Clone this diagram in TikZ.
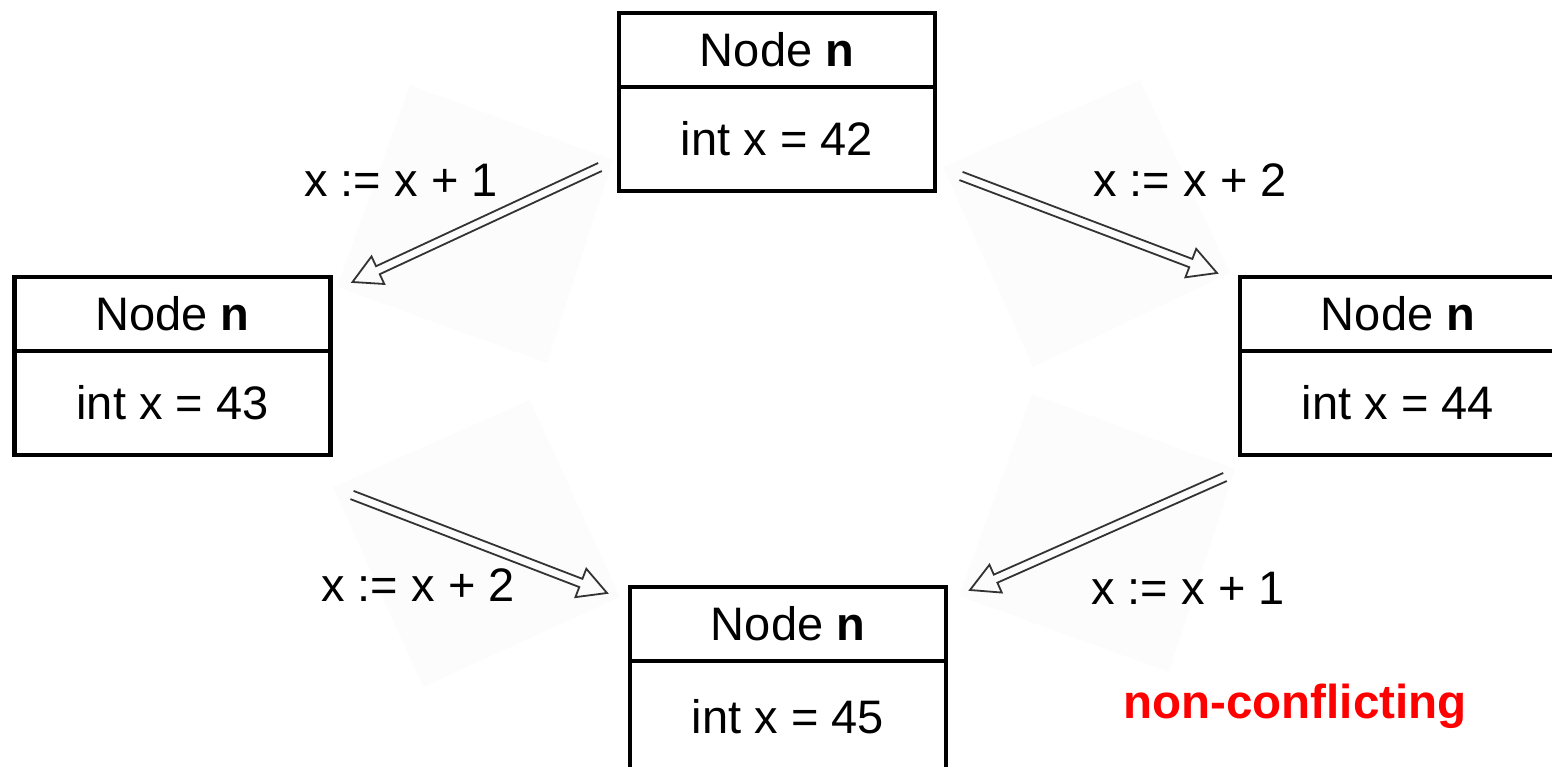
\documentclass[tikz,border=0pt]{standalone}
\usepackage{fontspec}
\setmainfont{Liberation Sans}
\usetikzlibrary{calc, positioning}

\begin{document}
\begin{tikzpicture}[
    x=0.5pt, y=-0.5pt,
    font=\fontsize{23.5pt}{28pt}\selectfont,
    head/.style={rectangle, draw=black, line width=2.3pt, minimum width=158pt, minimum height=37pt, inner sep=0pt, outer sep=0pt, anchor=north},
    value/.style={rectangle, draw=black, line width=2.3pt, minimum width=158pt, minimum height=52pt, inner sep=0pt, outer sep=0pt},
    haze/.style={fill=black!1.2, draw=none},
    flow/.style={draw=black!80, line width=0.9pt, line join=miter, to path={
        let \p1=(\tikztostart), \p2=(\tikztotarget),
            \n1={atan2(\y2-\y1,\x2-\x1)}, \n2={veclen(\x2-\x1,\y2-\y1)-14}
        in ($(\p1)+(\n1+90:2.2pt)$) -- ($(\p1)+(\n1:\n2)+(\n1+90:2.2pt)$)
           -- ($(\p1)+(\n1:\n2)+(\n1+90:7.6pt)$) -- (\p2)
           -- ($(\p1)+(\n1:\n2)+(\n1-90:7.6pt)$) -- ($(\p1)+(\n1:\n2)+(\n1-90:2.2pt)$)
           -- ($(\p1)+(\n1-90:2.2pt)$)}},
    update/.style={anchor=base}
]
\useasboundingbox (0,0) rectangle (1552,766);

% pale patches behind the arrows
\fill[haze] (410,85) -- (613,160) -- (547,363) -- (337,287) -- cycle;
\fill[haze] (1140,80) -- (1230,273) -- (1033,367) -- (943,167) -- cycle;
\fill[haze] (530,400) -- (620,597) -- (423,687) -- (333,487) -- cycle;
\fill[haze] (1032,394) -- (1235,469) -- (1169,672) -- (959,596) -- cycle;

\node (top) [head] at (777,13) {Node \textbf{n}};
\node (topx) [value, below=0pt of top] {int x = 42};
\node (lft) [head] at (172.5,277) {Node \textbf{n}};
\node (lftx) [value, below=0pt of lft] {int x = 43};
\node (rgt) [head] at (1398,277) {Node \textbf{n}};
\node (rgtx) [value, below=0pt of rgt] {int x = 44};
\node (bot) [head] at (788,587) {Node \textbf{n}};
\node (botx) [value, below=0pt of bot, minimum height=56pt] {int x = 45};

\draw [flow] ([shift={(-19,-24)}]topx.south west) to ([shift={(22,5)}]lft.north east);
\draw [flow] ([shift={(26,-15)}]topx.south east) to ([shift={(-23,-4)}]rgt.north west);
\draw [flow] ([shift={(21.5,40)}]lftx.south east) to ([shift={(-23,6)}]bot.north west);
\draw [flow] ([shift={(-15,22)}]rgtx.south west) to ([shift={(24,3)}]bot.north east);

\node (incone) [update] at (401,196) {x := x + 1};
\node (inctwo) [update] at (1190,196) {x := x + 2};
\node (lfttwo) [update] at (418,601) {x := x + 2};
\node (rgtone) [update] at (1188,604) {x := x + 1};
\node (verdict) [update, text=red, font=\fontsize{23.8pt}{28pt}\selectfont\bfseries] at (1295,718) {non-conflicting};

\end{tikzpicture}
\end{document}
